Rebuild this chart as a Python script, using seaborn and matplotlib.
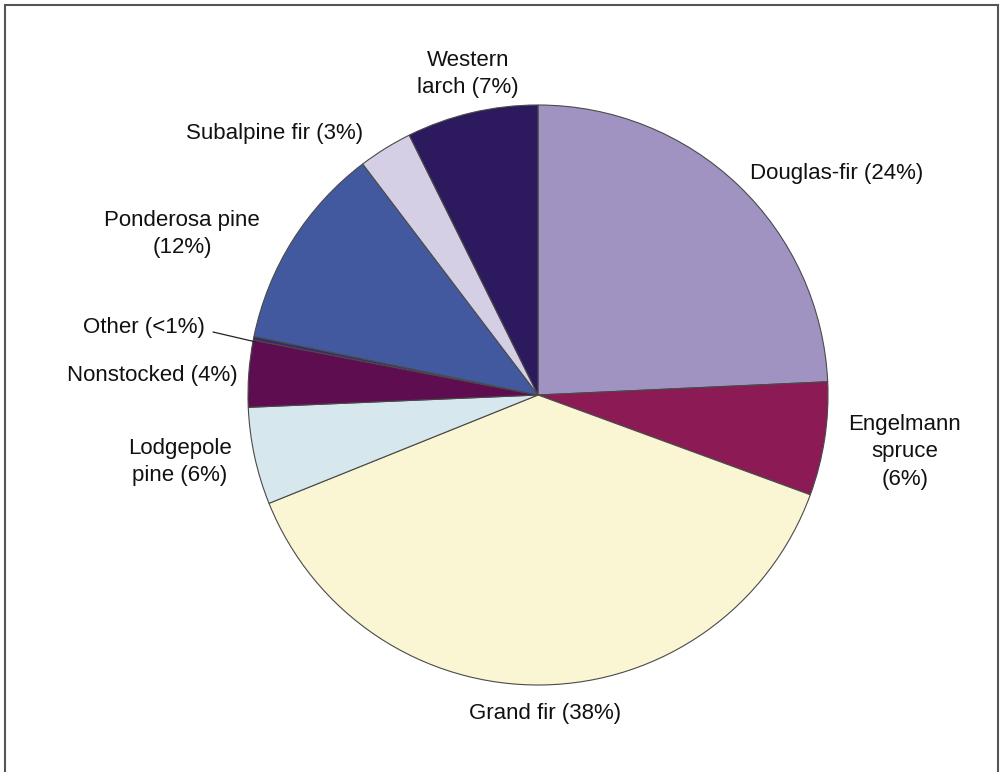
import matplotlib
matplotlib.use("Agg")
import matplotlib.pyplot as plt
import seaborn as sns
from matplotlib.patches import Rectangle

# forest type shares (clockwise from 12 o'clock)
species = ['Douglas-fir', 'Engelmann spruce', 'Grand fir', 'Lodgepole pine',
           'Nonstocked', 'Other', 'Ponderosa pine', 'Subalpine fir', 'Western larch']
shares = [24.2, 6.3, 38.2, 5.4, 3.7, 0.2, 11.4, 3.0, 7.3]
labels = ['Douglas-fir (24%)', 'Engelmann\nspruce\n(6%)', 'Grand fir (38%)',
          'Lodgepole\npine (6%)', 'Nonstocked (4%)', 'Other (<1%)',
          'Ponderosa pine\n(12%)', 'Subalpine fir (3%)', 'Western\nlarch (7%)']
colors = ['#A093C2', '#8B1A55', '#FAF6D3', '#D6E7ED', '#5E0E50',
          '#3A2A6A', '#4259A0', '#D4CFE4', '#2D1A5E']

sns.set_theme(style='white')
plt.rcParams['font.family'] = ['Liberation Sans', 'DejaVu Sans']

W, H = 1004, 772
fig = plt.figure(figsize=(W / 100, H / 100), dpi=100)
fig.patch.set_facecolor('white')

# pie centre (538, 395) px, radius 290 px
cx, cy, r = 538, 395, 290
ax = fig.add_axes([(cx - r) / W, (H - cy - r) / H, 2 * r / W, 2 * r / H])
ax.pie(shares, colors=sns.color_palette(colors), startangle=90, counterclock=False,
       wedgeprops=dict(edgecolor='#4a4a4a', linewidth=0.8))
ax.set_xlim(-1, 1)
ax.set_ylim(-1, 1)
ax.set_aspect('equal')
ax.axis('off')

# label placement in pixel coords (x, y, ha)
label_pos = {
    'Douglas-fir': (750, 173, 'left'),
    'Engelmann spruce': (905, 452, 'center'),
    'Grand fir': (545, 714, 'center'),
    'Lodgepole pine': (180, 462, 'center'),
    'Nonstocked': (238, 376, 'right'),
    'Other': (205, 328, 'right'),
    'Ponderosa pine': (260, 234, 'right'),
    'Subalpine fir': (363, 133, 'right'),
    'Western larch': (468, 74, 'center'),
}
for sp, lab in zip(species, labels):
    x, y, ha = label_pos[sp]
    fig.text(x / W, 1 - y / H, lab, ha=ha, va='center', fontsize=16,
             color='#111111', linespacing=1.4, multialignment='center')

# leader line for "Other"
fig.add_artist(plt.Line2D([213 / W, 256 / W], [1 - 332 / H, 1 - 342 / H],
                          color='#222222', linewidth=0.9))

# outer frame
fig.patches.append(Rectangle((5 / W, -0.05), 993 / W, 1 - 5 / H + 0.05,
                             transform=fig.transFigure, fill=False,
                             edgecolor='#555555', linewidth=1.5))

fig.savefig('out.png', dpi=100)
